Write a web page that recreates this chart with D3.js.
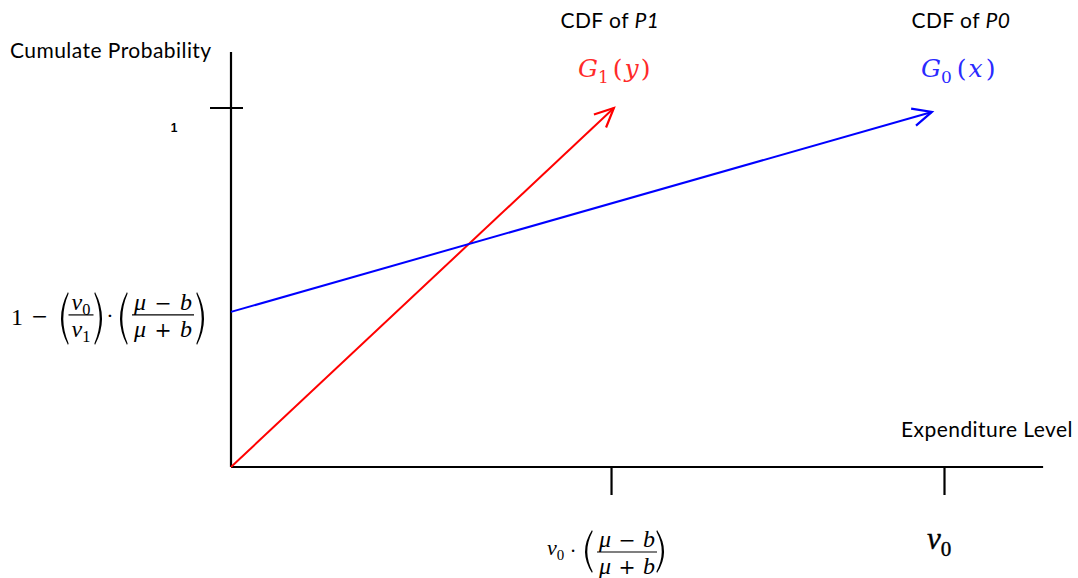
<!DOCTYPE html>
<html><head><meta charset="utf-8">
<script src="https://cdn.jsdelivr.net/npm/d3@7"></script>
<style>body{margin:0;background:#fff} svg{display:block}</style>
</head><body><svg id="chart" width="1078" height="578"></svg>
<script>
// Cumulative distribution functions of expenditure under the two regimes
const cdfP1 = [[0, 0], [0.537, 1]];          // G1(y)
const cdfP0 = [[0, 0.432], [0.983, 0.989]];  // G0(x)
const xTicks = [0.533, 1];                   // v0·((μ−b)/(μ+b)), v0
const yTicks = [1];
const yTickLabels = ["1"];
const yIntercept = 0.432;                    // 1 − (v0/v1)·((μ−b)/(μ+b))
const seriesTitles = ["CDF of ", "CDF of "];
const seriesTitleItalic = ["P1", "P0"];
const axisTitles = ["Cumulate Probability", "Expenditure Level"];

const SANS = "Lato, 'Open Sans', sans-serif";
const MATH = "'Liberation Serif', 'DejaVu Serif', serif";
const OPS = "'DejaVu Serif', serif";
const RED = "#ff0000", BLUE = "#0000ff";

const svg = d3.select("#chart");
const x = d3.scaleLinear().domain([0, 1]).range([231, 944]);
const y = d3.scaleLinear().domain([0, 1]).range([467, 108]);

// axes
const axisW = 2.2;
svg.append("line").attr("x1", x(0)).attr("x2", x(0)).attr("y1", y(0)).attr("y2", y(1.156))
  .attr("stroke", "#000").attr("stroke-width", axisW);
svg.append("line").attr("x1", x(0)).attr("x2", x(1.139)).attr("y1", y(0)).attr("y2", y(0))
  .attr("stroke", "#000").attr("stroke-width", axisW);

const xAxis = svg.append("g").attr("transform", `translate(0,${y(0)})`)
  .call(d3.axisBottom(x).tickValues(xTicks).tickSize(28).tickFormat(""));
xAxis.select(".domain").remove();
xAxis.selectAll(".tick line").attr("stroke", "#000").attr("stroke-width", axisW);

svg.selectAll(".ytick").data(yTicks).join("line").attr("class", "ytick")
  .attr("x1", x(0) - 21).attr("x2", x(0) + 12)
  .attr("y1", d => y(d)).attr("y2", d => y(d))
  .attr("stroke", "#000").attr("stroke-width", axisW);
svg.selectAll(".ylab").data(yTicks).join("text").attr("class", "ylab")
  .attr("x", 174).attr("y", d => y(d) + 24)
  .attr("text-anchor", "middle").attr("font-family", "'Liberation Sans', Arial, sans-serif")
  .attr("font-weight", "bold").attr("font-size", 12).text((d, i) => yTickLabels[i]);

// axis titles
const titleSize = 21, titleSpacing = 0.45;
svg.append("text").attr("x", 10).attr("y", 58).attr("font-family", SANS).attr("font-size", titleSize)
  .attr("letter-spacing", titleSpacing).attr("fill", "#000").text(axisTitles[0]);
svg.append("text").attr("x", 1073).attr("y", 437).attr("text-anchor", "end")
  .attr("font-family", SANS).attr("font-size", titleSize).attr("letter-spacing", titleSpacing)
  .attr("fill", "#000").text(axisTitles[1]);

// CDF lines with open arrowheads
const line = d3.line().x(d => x(d[0])).y(d => y(d[1]));
function arrowLine(data, color) {
  svg.append("path").attr("d", line(data)).attr("fill", "none")
    .attr("stroke", color).attr("stroke-width", 2);
  const a = data[data.length - 2], b = data[data.length - 1];
  const tx = x(b[0]), ty = y(b[1]);
  const ang = Math.atan2(y(a[1]) - ty, x(a[0]) - tx);
  const L = 21, h = 25 * Math.PI / 180;
  const p1 = [tx + L * Math.cos(ang - h), ty + L * Math.sin(ang - h)];
  const p2 = [tx + L * Math.cos(ang + h), ty + L * Math.sin(ang + h)];
  svg.append("path").attr("d", `M${p1}L${tx},${ty}L${p2}`).attr("fill", "none")
    .attr("stroke", color).attr("stroke-width", 2.2).attr("stroke-linejoin", "miter");
}
arrowLine(cdfP1, RED);
arrowLine(cdfP0, BLUE);

// series titles
function seriesTitle(cx, i) {
  const t = svg.append("text").attr("x", cx).attr("y", 28).attr("text-anchor", "middle")
    .attr("font-family", SANS).attr("font-size", titleSize).attr("letter-spacing", titleSpacing)
    .attr("fill", "#000");
  t.append("tspan").text(seriesTitles[i]);
  t.append("tspan").attr("font-style", "italic").text(seriesTitleItalic[i]);
}
seriesTitle(x(cdfP1[1][0]) - 4, 0);
seriesTitle(x(cdfP0[1][0]) + 29, 1);

// math helpers
function mathText(g, xx, yy, parts, size, color, anchor, len, family) {
  const t = g.append("text").attr("x", xx).attr("y", yy).attr("font-family", family || MATH)
    .attr("font-size", size).attr("fill", color || "#000").attr("text-anchor", anchor || "start");
  if (len) t.attr("textLength", len).attr("lengthAdjust", "spacing");
  let shifted = false;
  parts.forEach(p => {
    const s = t.append("tspan").text(p.t);
    if (p.i) s.attr("font-style", "italic");
    if (p.op) s.attr("font-family", OPS).attr("font-size", size * 0.85);
    if (p.dx) s.attr("dx", p.dx);
    if (p.sub) { s.attr("font-size", size * 0.68).attr("dy", size * 0.22); shifted = true; }
    else if (shifted) { s.attr("dy", -size * 0.22); shifted = false; }
  });
  return t;
}
function paren(g, xTip, yTop, yBot, dir) {
  // dir = -1 for "(", +1 for ")"
  const ym = (yTop + yBot) / 2;
  const o = xTip + dir * 14, inn = xTip + dir * 10;
  g.append("path").attr("d",
    `M${xTip},${yTop}Q${o},${ym} ${xTip},${yBot}L${xTip - dir * 0.6},${yBot - 1.5}Q${inn},${ym} ${xTip - dir * 0.6},${yTop + 1.5}Z`)
    .attr("fill", "#000");
}
function frac(g, cx, barY, num, den, size, w, fit) {
  mathText(g, cx, barY - 5, num, size, "#000", "middle", fit ? w - 4 : null);
  g.append("line").attr("x1", cx - w / 2).attr("x2", cx + w / 2).attr("y1", barY).attr("y2", barY)
    .attr("stroke", "#000").attr("stroke-width", 1.2);
  mathText(g, cx, barY + 22, den, size, "#000", "middle", fit ? w - 4 : null);
}
const muMinusB = [{t: "μ", i: 1}, {t: " − ", op: 1}, {t: "b", i: 1}];
const muPlusB = [{t: "μ", i: 1}, {t: " + ", op: 1}, {t: "b", i: 1}];

// y-intercept label of G0
{
  const g = svg.append("g");
  const by = y(yIntercept) + 3;
  mathText(g, 11, by + 10, [{t: "1"}], 24);
  mathText(g, 31, by + 8, [{t: "−", op: 1}], 24);
  paren(g, 68, by - 23, by + 30, -1);
  frac(g, 81, by, [{t: "v", i: 1}, {t: "0", sub: 1}], [{t: "v", i: 1}, {t: "1", sub: 1}], 24, 25);
  paren(g, 95, by - 23, by + 30, 1);
  mathText(g, 110, by + 8, [{t: "·"}], 22, "#000", "middle");
  paren(g, 127, by - 23, by + 30, -1);
  frac(g, 163, by, muMinusB, muPlusB, 24, 62, true);
  paren(g, 197, by - 23, by + 30, 1);
}

// x tick labels
{
  const g = svg.append("g");
  const cx = x(xTicks[0]);
  const by = 552;
  mathText(g, cx - 64, 555, [{t: "v", i: 1}, {t: "0", sub: 1}], 22);
  mathText(g, cx - 38, 558, [{t: "·"}], 20, "#000", "middle");
  paren(g, cx - 19, by - 22, by + 21, -1);
  frac(g, cx + 16, by, muMinusB, muPlusB, 24, 60, true);
  paren(g, cx + 46, by - 22, by + 21, 1);

  mathText(svg, x(xTicks[1]) - 17, 549, [{t: "v", i: 1}, {t: "0", sub: 1}], 31)
    .attr("stroke", "#000").attr("stroke-width", 0.4);
}

// curve names
const CURVE_FONT = "'DejaVu Serif', serif";
const g1Parts = [{t: "G", i: 1}, {t: "1", sub: 1}, {t: "(", dx: 4}, {t: "y", i: 1, dx: 2}, {t: ")", dx: 2}];
const g0Parts = [{t: "G", i: 1}, {t: "0", sub: 1}, {t: "(", dx: 5}, {t: "x", i: 1, dx: 2}, {t: ")", dx: 3}];
mathText(svg, 578, 77, g1Parts, 25, "#ff2a2a", "start", null, CURVE_FONT);
mathText(svg, 921, 77, g0Parts, 25, "#2a2aff", "start", null, CURVE_FONT);
</script>
</body></html>
